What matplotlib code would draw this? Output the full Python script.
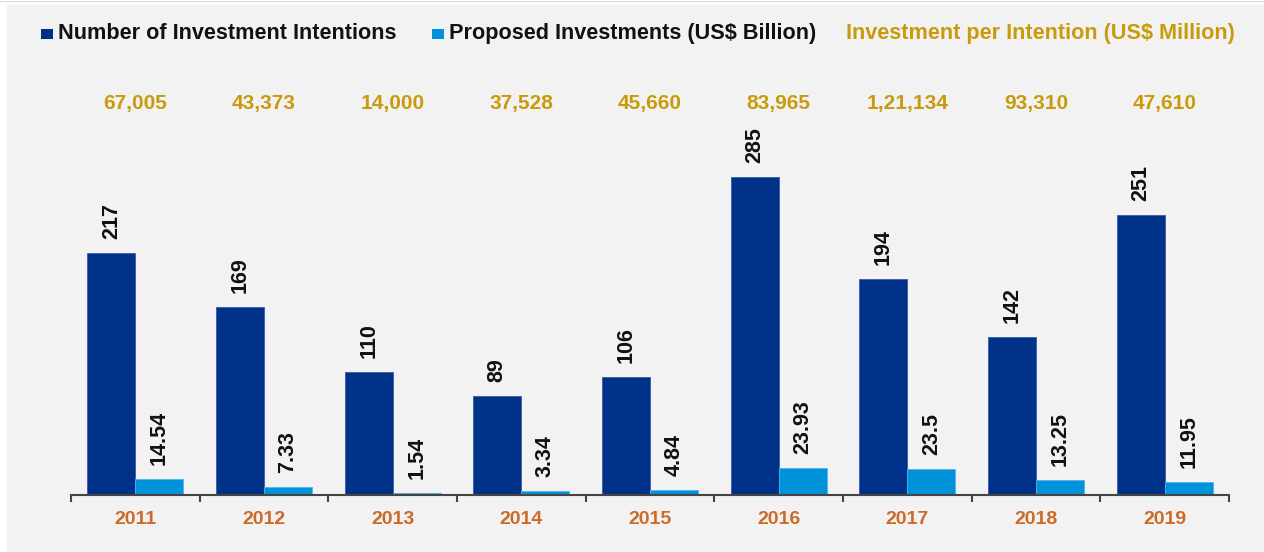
import matplotlib
matplotlib.use("Agg")
import matplotlib.pyplot as plt
from matplotlib.patches import Rectangle
import numpy as np

years = ["2011", "2012", "2013", "2014", "2015", "2016", "2017", "2018", "2019"]
intentions = [217, 169, 110, 89, 106, 285, 194, 142, 251]
proposed = [14.54, 7.33, 1.54, 3.34, 4.84, 23.93, 23.5, 13.25, 11.95]
per_intention = ["67,005", "43,373", "14,000", "37,528", "45,660",
                 "83,965", "1,21,134", "93,310", "47,610"]

DARK = "#003189"
LIGHT = "#0093db"
GOLD = "#c89a0c"
ORANGE = "#cc6a28"
BG = "#f2f2f2"

plt.rcParams["font.family"] = ["Liberation Sans", "DejaVu Sans"]

W, H = 1264, 552
fig = plt.figure(figsize=(W / 100, H / 100), dpi=100)
fig.patch.set_facecolor("white")

# grey panel behind the chart
fig.patches.append(Rectangle((7 / W, 0), 1 - 7 / W, 1 - 5 / H,
                             transform=fig.transFigure, facecolor=BG,
                             edgecolor="none", zorder=-10))
fig.patches.append(Rectangle((0, 1 - 2 / H), 1, 1 / H,
                             transform=fig.transFigure, facecolor="#d8d8d8",
                             edgecolor="none", zorder=-9))

left, right, base = 71 / W, 1229 / W, 57 / H
ymax = 320
scale = 242 / 217  # pixels per unit
axh = ymax * scale  # axes height in pixels
ax = fig.add_axes([left, base, right - left, axh / H])
ax.set_facecolor("none")

x = np.arange(len(years))
bw = 0.373
b1 = ax.bar(x - bw / 2, intentions, bw, color=DARK, edgecolor="#3a5aa8",
            linewidth=0.6)
b2 = ax.bar(x + bw / 2, proposed, bw, color=LIGHT, edgecolor="#4fb4e8",
            linewidth=0.6)

for bars, vals in ((b1, intentions), (b2, proposed)):
    for rect, v in zip(bars, vals):
        ax.annotate(f"{v}",
                    (rect.get_x() + rect.get_width() / 2, rect.get_height()),
                    xytext=(0, 10), textcoords="offset points", rotation=90,
                    ha="center", va="bottom", fontsize=15.5, fontweight="bold",
                    color="#111111")

ax.set_xlim(-0.5, len(years) - 0.5)
ax.set_ylim(0, ymax)
for s in ["left", "right", "top"]:
    ax.spines[s].set_visible(False)
ax.spines["bottom"].set_color("#444444")
ax.spines["bottom"].set_linewidth(1.5)
ax.set_yticks([])
ax.set_xticks(np.arange(-0.5, len(years)))
ax.set_xticklabels([])
ax.tick_params(axis="x", direction="out", length=5, width=1.5, color="#444444")

xt = ax.get_xaxis_transform()
# year labels below the axis
for xi, yr in zip(x, years):
    ax.text(xi, -24 / axh, yr, transform=xt, ha="center", va="center",
            fontsize=14, fontweight="bold", color=ORANGE)

# investment per intention row
for xi, lab in zip(x, per_intention):
    ax.text(xi, (495 - 104) / axh, lab, transform=xt, ha="center",
            va="center", fontsize=15, fontweight="bold", color=GOLD)


def fy(py):
    return 1 - py / H


# legend
fig.patches.append(Rectangle((41 / W, fy(39)), 12 / W, 10 / H,
                             transform=fig.transFigure, facecolor=DARK,
                             edgecolor="none"))
fig.text(58 / W, fy(33.5), "Number of Investment Intentions", ha="left",
         va="center", fontsize=15.6, fontweight="bold", color="#111111")
fig.patches.append(Rectangle((432 / W, fy(39)), 12 / W, 10 / H,
                             transform=fig.transFigure, facecolor=LIGHT,
                             edgecolor="none"))
fig.text(449 / W, fy(33.5), "Proposed Investments (US$ Billion)", ha="left",
         va="center", fontsize=15.6, fontweight="bold", color="#111111")
fig.text(846 / W, fy(33.5), "Investment per Intention (US$ Million)", ha="left",
         va="center", fontsize=15.6, fontweight="bold", color=GOLD)

fig.savefig("out.png", dpi=100, facecolor=fig.get_facecolor())
